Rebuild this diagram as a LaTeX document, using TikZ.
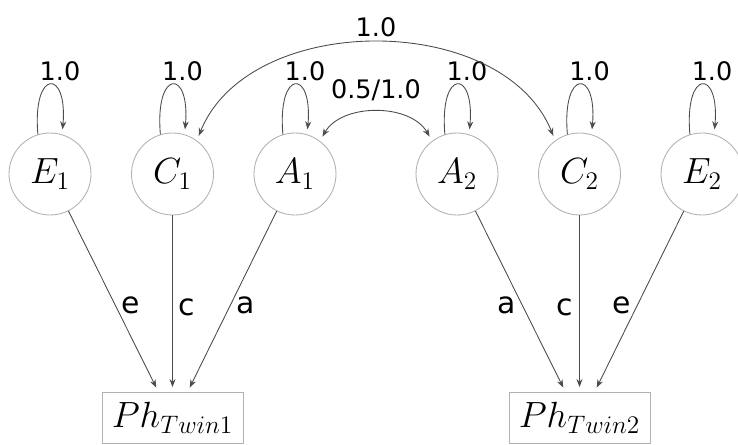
\documentclass[tikz,border=0pt]{standalone}
\usepackage{fontspec}
\newfontfamily\lblfont{DejaVu Sans}
\usepackage{tikz}
\usetikzlibrary{arrows.meta,positioning}

\begin{document}
\begin{tikzpicture}[
  node distance=2.45cm, on grid,
  latent/.style={circle, draw=black!30, line width=0.5pt, minimum size=1.64cm, inner sep=0pt, font=\fontsize{19.5}{21}\selectfont},
  pheno/.style={rectangle, draw=black!30, line width=0.5pt, minimum width=2.82cm, minimum height=1.02cm, inner sep=0pt, font=\fontsize{19.5}{21}\selectfont},
  arrow/.style={-{Stealth[length=1.6mm,width=1.2mm]}, draw=black!70, line width=0.5pt, shorten >=1mm},
  dblarrow/.style={{Stealth[length=1.6mm,width=1.2mm]}-{Stealth[length=1.6mm,width=1.2mm]}, draw=black!70, line width=0.5pt, shorten >=1mm, shorten <=1mm},
  varlabel/.style={font=\lblfont\fontsize{14.5}{16}\selectfont},
  coef/.style={font=\lblfont\fontsize{17}{19}\selectfont}
]
\useasboundingbox (0,0) rectangle (14.76,-8.9);

% latent factors, twin 1 and twin 2
\node[latent] (e1) at (1.0,-3.48) {$E_1$};
\node[latent, right=of e1] (c1) {$C_1$};
\node[latent, right=of c1] (a1) {$A_1$};
\node[latent, right=3.24cm of a1] (a2) {$A_2$};
\node[latent, right=of a2] (c2) {$C_2$};
\node[latent, right=of c2] (e2) {$E_2$};

% phenotypes
\node[pheno, below=4.88cm of c1] (ph1) {$Ph_{Twin1}$};
\node[pheno, below=4.88cm of c2] (ph2) {$Ph_{Twin2}$};

% variances
\foreach \n in {e1,c1,a1,a2,c2,e2} {
  \draw[arrow] (\n.107) to[out=95, in=85, looseness=7]
    node[varlabel, above, inner sep=2pt, xshift=0.2cm] {1.0} (\n.73);
}

% covariances between twins
\draw[dblarrow] (a1.53) to[bend left=60] node[varlabel, above, yshift=1mm] {0.5/1.0} (a2.127);
\draw[dblarrow] (c1.54) to[bend left=68] node[varlabel, above] {1.0} (c2.126);

% paths to phenotypes
\draw[arrow] (e1) -- node[coef, pos=0.52, right] {e} ([xshift=-0.28cm]ph1.north);
\draw[arrow] (c1) -- node[coef, pos=0.52, right] {c} (ph1);
\draw[arrow] (a1) -- node[coef, pos=0.52, right] {a} ([xshift=0.3cm]ph1.north);
\draw[arrow] (a2) -- node[coef, pos=0.52, left] {a} ([xshift=-0.28cm]ph2.north);
\draw[arrow] (c2) -- node[coef, pos=0.52, left] {c} (ph2);
\draw[arrow] (e2) -- node[coef, pos=0.52, left] {e} ([xshift=0.3cm]ph2.north);
\end{tikzpicture}
\end{document}
